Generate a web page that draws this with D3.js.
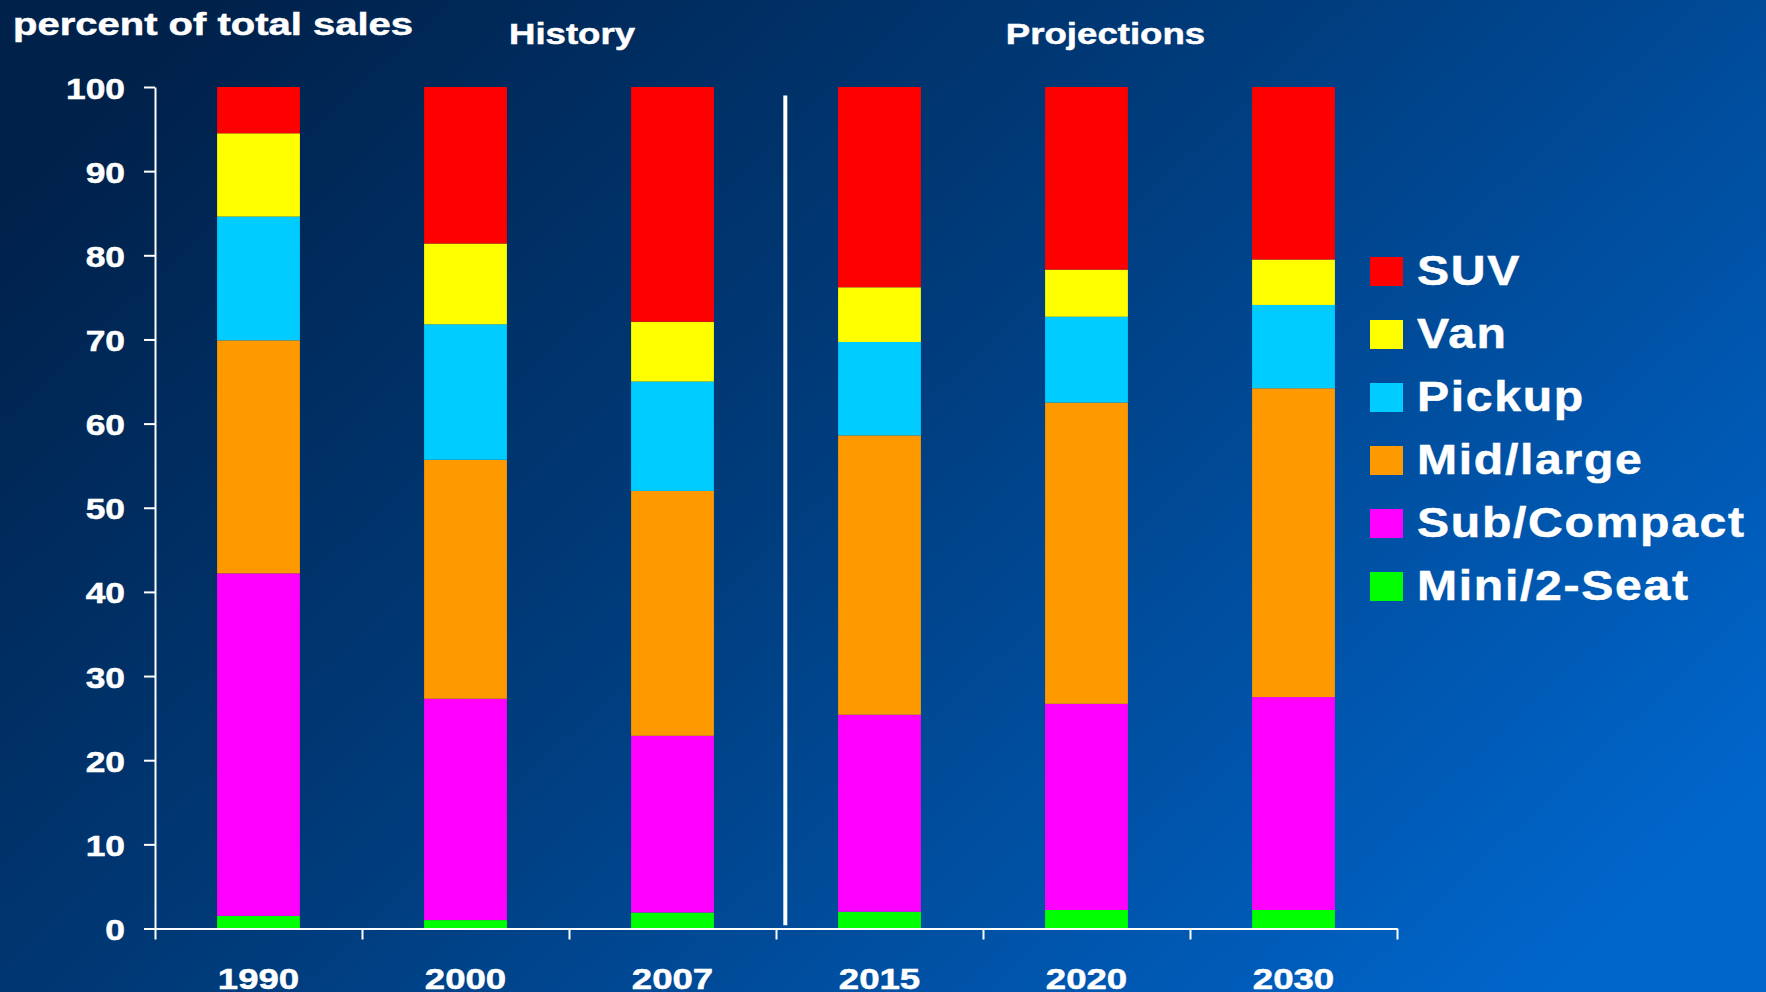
<!DOCTYPE html>
<html>
<head>
<meta charset="utf-8">
<script src="https://cdn.jsdelivr.net/npm/d3@7"></script>
<style>
	html, body { margin: 0; padding: 0; overflow: hidden; background: #002a5c; }
	text { font-family: "Liberation Sans", Arial, sans-serif; font-weight: bold; fill: #fff; stroke: #fff; stroke-width: 0.5px; }
</style>
</head>
<body>
<div id="chart"></div>
<script>
"use strict";

const years = ['1990', '2000', '2007', '2015', '2020', '2030'];
const classes = ['Mini/2-Seat', 'Sub/Compact', 'Mid/large', 'Pickup', 'Van', 'SUV'];
const colors = ['#00ff00', '#ff00ff', '#ff9900', '#00ccff', '#ffff00', '#ff0000'];

//  percent of sales per class, one entry per year
const mini = [1.5, 1.0, 1.9, 2.0, 2.2, 2.2];
const subCompact = [40.7, 26.3, 21.0, 23.4, 24.5, 25.3];
const midLarge = [27.7, 28.4, 29.1, 33.2, 35.8, 36.7];
const pickup = [14.7, 16.1, 13.0, 11.1, 10.2, 9.9];
const van = [9.9, 9.6, 7.1, 6.5, 5.6, 5.4];
const suv = [5.5, 18.6, 27.9, 23.8, 21.7, 20.5];

const yTicks = [0, 10, 20, 30, 40, 50, 60, 70, 80, 90, 100];
const sectionTitles = ['History', 'Projections'];

const width = 1766, height = 992;
const margin = { left: 155, right: 369, top: 87, bottom: 63 };
const stretch = 1.22;

const series = [mini, subCompact, midLarge, pickup, van, suv];
const table = years.map((year, i) =>
{
	let row = { year: year };
	classes.forEach((name, k) => row[name] = series[k][i]);
	return row;
});

let svg = d3.select('#chart').append('svg')
	.attr('width', width)
	.attr('height', height);

//  Background
let grad = svg.append('defs').append('linearGradient')
	.attr('id', 'bg')
	.attr('x1', 0).attr('y1', 0.2)
	.attr('x2', 1).attr('y2', 0.8);
grad.append('stop').attr('offset', 0).attr('stop-color', '#00214a');
grad.append('stop').attr('offset', 0.45).attr('stop-color', '#003c7c');
grad.append('stop').attr('offset', 1).attr('stop-color', '#0066cc');

svg.append('rect')
	.attr('width', width)
	.attr('height', height)
	.attr('fill', 'url(#bg)');

//  Scales
let x = d3.scaleBand()
	.domain(years)
	.range([margin.left, width - margin.right])
	.paddingInner(0.6)
	.paddingOuter(0.3);

let xEdge = d3.scaleLinear()
	.domain([0, years.length])
	.range([margin.left, width - margin.right]);

let y = d3.scaleLinear()
	.domain([0, 100])
	.range([height - margin.bottom - 0.5, margin.top]);

let color = d3.scaleOrdinal().domain(classes).range(colors);

let stacked = d3.stack().keys(classes)(table);

//  Bars
svg.append('g')
	.selectAll('g')
	.data(stacked)
	.join('g')
		.attr('fill', layer => color(layer.key))
	.selectAll('rect')
	.data(layer => layer)
	.join('rect')
		.attr('x', d => x(d.data.year))
		.attr('width', x.bandwidth())
		.attr('y', d => y(d[1]))
		.attr('height', d => y(d[0]) - y(d[1]));

//  Divider between history and projections
svg.append('line')
	.attr('x1', xEdge(3.045))
	.attr('x2', xEdge(3.045))
	.attr('y1', y(99))
	.attr('y2', y(0.4))
	.attr('stroke', '#fff')
	.attr('stroke-width', 4);

//  Axes
let yAxis = svg.append('g')
	.attr('transform', `translate(${margin.left},0)`)
	.call(d3.axisLeft(y).tickValues(yTicks).tickSize(11).tickSizeOuter(0));

yAxis.selectAll('text')
	.attr('x', null)
	.attr('dy', null)
	.attr('text-anchor', 'end')
	.attr('transform', `translate(-30,11) scale(${stretch},1)`)
	.style('font-size', '29px');

let xEdges = svg.append('g')
	.attr('transform', `translate(0,${y(0)})`)
	.call(d3.axisBottom(xEdge).ticks(years.length).tickFormat('').tickSize(11).tickSizeOuter(0));

let xAxis = svg.append('g')
	.attr('transform', `translate(0,${y(0)})`)
	.call(d3.axisBottom(x).tickSize(0).tickSizeOuter(0));

xAxis.select('.domain').remove();
xAxis.selectAll('text')
	.attr('y', null)
	.attr('dy', null)
	.attr('text-anchor', 'middle')
	.attr('transform', `translate(0,60) scale(${stretch},1)`)
	.style('font-size', '30px');

[yAxis, xEdges].forEach(axis =>
{
	axis.selectAll('.domain, line')
		.attr('stroke', '#fff')
		.attr('stroke-width', 2);
	axis.attr('font-family', null).attr('font-size', null);
});
xAxis.attr('font-family', null).attr('font-size', null);

//  Titles
svg.append('text')
	.attr('transform', 'translate(13,35) scale(1.25,1)')
	.style('font-size', '32px')
	.text('percent of total sales');

svg.selectAll('.section')
	.data(sectionTitles)
	.join('text')
		.classed('section', true)
		.attr('text-anchor', 'middle')
		.attr('transform', (title, i) => `translate(${i === 0 ? xEdge(2.0) + 3 : xEdge(4.5) + 19},44) scale(${stretch},1)`)
		.style('font-size', '30px')
		.text(title => title);

//  Legend
let legend = svg.append('g')
	.attr('transform', 'translate(1370,257)')
	.selectAll('g')
	.data(classes.slice().reverse())
	.join('g')
		.attr('transform', (name, i) => `translate(0,${i * 63})`);

legend.append('rect')
	.attr('width', 33)
	.attr('height', 29)
	.attr('fill', name => color(name));

legend.append('text')
	.attr('transform', 'translate(47,28) scale(1.12,1)')
	.style('font-size', '43px')
	.style('letter-spacing', '1.5px')
	.text(name => name);
</script>
</body>
</html>
